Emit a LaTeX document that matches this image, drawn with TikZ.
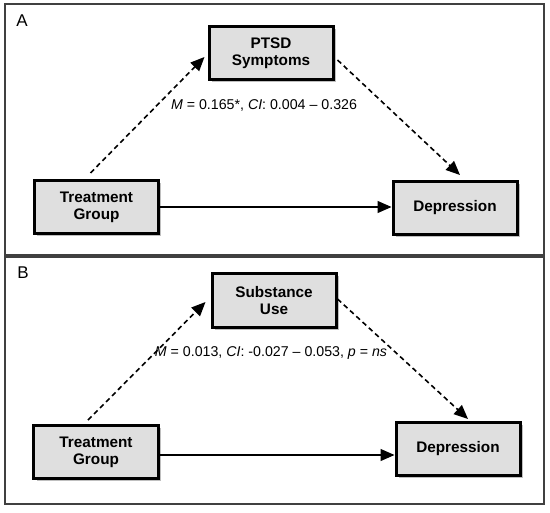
\documentclass[tikz,border=0pt]{standalone}
\usepackage{fontspec}
\setmainfont{Liberation Sans}
\usepackage{tikz}
\usetikzlibrary{arrows.meta, positioning, shadows}
\tikzstyle{var} = [rectangle, minimum width=124bp, minimum height=53bp, inner sep=0pt, align=center, line width=3bp, draw=black, fill=gray!25, font=\fontsize{15.3bp}{17bp}\selectfont\bfseries, drop shadow={shadow xshift=2.5bp, shadow yshift=-2.5bp, opacity=0.5}]
\tikzstyle{stat} = [font=\fontsize{14.2bp}{16bp}\selectfont, inner sep=0pt]
\tikzstyle{panel} = [font=\fontsize{17bp}{19bp}\selectfont, inner sep=0pt]
\tikzstyle{frame} = [draw=black!75, line width=1.1bp]
\tikzstyle{direct} = [line width=1.2bp, -{Triangle[length=14bp, width=12bp]}]
\tikzstyle{indirect} = [line width=1.6bp, dash pattern=on 5bp off 3.5bp, -{Triangle[length=14bp, width=12bp]}]

\begin{document}
\begin{tikzpicture}[x=1bp, y=-1bp]
            \useasboundingbox (0,0) rectangle (550,513);

            % Frames
            \draw [frame] (5,4) rectangle (544,255);
            \draw [frame] (5,257) rectangle (544,504);

            % Panel A
            \node (lblA) [panel] at (22,21) {A};
            \node (treatA) [var] at (96.5,207) {Treatment\\Group};
            \node (ptsd) [var, right of=treatA, node distance=174.5bp, yshift=153.5bp] {PTSD\\Symptoms};
            \node (deprA) [var, right of=treatA, node distance=358.5bp, yshift=-1bp] {Depression};
            \node (statA) [stat, below of=ptsd, node distance=51.5bp, xshift=-7bp] {\textit{M} = 0.165*, \textit{CI}: 0.004 -- 0.326};

            \draw [indirect] ([xshift=-6bp, yshift=6bp]treatA.north) -- ([xshift=-3bp, yshift=-3.5bp]ptsd.west);
            \draw [indirect] ([xshift=3bp, yshift=-6.5bp]ptsd.east) -- ([xshift=5bp, yshift=5bp]deprA.north);
            \draw [direct] (treatA.east) -- (treatA.east -| deprA.west);

            % Panel B
            \node (lblB) [panel] at (23,273) {B};
            \node (treatB) [var] at (96,452) {Treatment\\Group};
            \node (subst) [var, right of=treatB, node distance=178bp, yshift=151.5bp] {Substance\\Use};
            \node (deprB) [var, right of=treatB, node distance=362bp, yshift=3bp] {Depression};
            \node (statB) [stat, below of=subst, node distance=52.5bp, xshift=-3bp] {\textit{M} = 0.013, \textit{CI}: -0.027 -- 0.053, \textit{p} = \textit{ns}};

            \draw [indirect] ([xshift=-8bp, yshift=4bp]treatB.north) -- ([xshift=-5bp, yshift=-1.5bp]subst.west);
            \draw [indirect] ([xshift=0bp, yshift=1.5bp]subst.east) -- ([xshift=10bp, yshift=2bp]deprB.north);
            \draw [direct] ([yshift=-3bp]treatB.east) -- ([yshift=-6bp]deprB.west);

        \end{tikzpicture}
\end{document}
